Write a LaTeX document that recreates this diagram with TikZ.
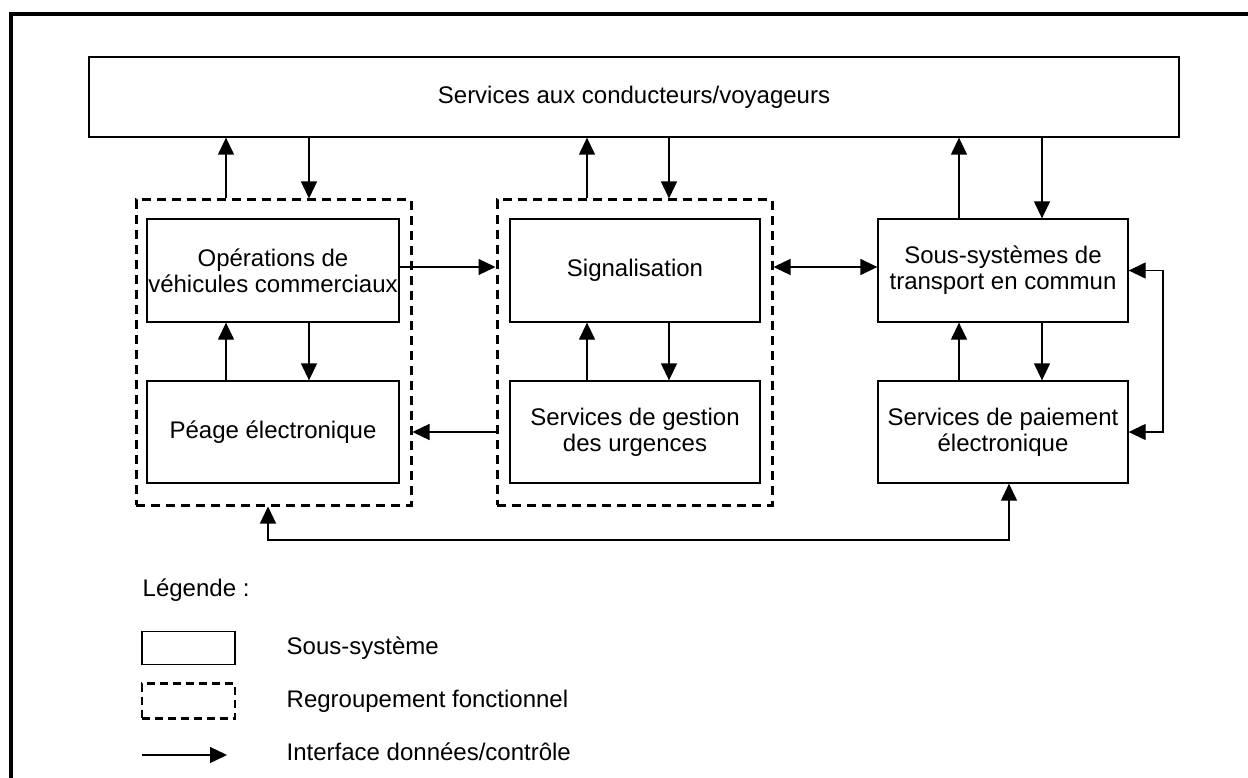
\documentclass[tikz,border=0pt]{standalone}
\usepackage{fontspec}
\setmainfont{Liberation Sans}
\usetikzlibrary{arrows.meta}
\begin{document}
\begin{tikzpicture}[x=1pt,y=-1pt,
  font=\fontsize{24}{26}\selectfont,
  subsys/.style={draw, line width=1.3pt, inner sep=0pt, align=center},
  grouping/.style={draw, line width=3pt, dash pattern=on 9pt off 6pt, inner sep=0pt},
  link/.style={line width=1.3pt, -{Triangle[length=17pt,width=16pt]}},
  duallink/.style={line width=1.3pt, {Triangle[length=17pt,width=16pt]}-{Triangle[length=17pt,width=16pt]}},
  caption/.style={anchor=west, inner sep=0pt}]
\useasboundingbox (0,0) rectangle (1248,778);
\clip (0,0) rectangle (1248,778);
% page frame
\draw[line width=3.5pt] (11,800) -- (11,14) -- (1260,14);

% top subsystem
\node[subsys, minimum width=1090pt, minimum height=80pt] (top) at (634,97)
  {Services aux conducteurs/voyageurs};

% functional groupings
\node[grouping, minimum width=275pt, minimum height=305pt] (g1) at (273.5,352.5) {};
\node[grouping, minimum width=275pt, minimum height=305pt] (g2) at (634.5,352.5) {};

% subsystems
\node[subsys, minimum width=252pt, minimum height=103pt] (ops) at (273,270.5)
  {Opérations de\\véhicules commerciaux};
\node[subsys, minimum width=252pt, minimum height=102pt] (peage) at (273,432)
  {Péage électronique};
\node[subsys, minimum width=250pt, minimum height=103pt] (sig) at (635,270.5)
  {Signalisation};
\node[subsys, minimum width=250pt, minimum height=102pt] (urg) at (635,432)
  {Services de gestion\\des urgences};
\node[subsys, minimum width=250pt, minimum height=103pt] (tc) at (1003,270.5)
  {Sous-systèmes de\\transport en commun};
\node[subsys, minimum width=250pt, minimum height=102pt] (pay) at (1003,432)
  {Services de paiement\\électronique};

% reference columns and rows for the connectors
\coordinate (c1u) at (226,0);
\coordinate (c1d) at (309,0);
\coordinate (c2u) at (587,0);
\coordinate (c2d) at (669,0);
\coordinate (c3u) at (959,0);
\coordinate (c3d) at (1042,0);
\coordinate (rowA) at (0,267);
\coordinate (rowB) at (0,432);
\coordinate (loopx) at (1163,0);
\coordinate (b1) at (268,540);
\coordinate (b2) at (1009,540);

% links with the top subsystem
\draw[link] (g1.north -| c1u) -- (top.south -| c1u);
\draw[link] (top.south -| c1d) -- (g1.north -| c1d);
\draw[link] (g2.north -| c2u) -- (top.south -| c2u);
\draw[link] (top.south -| c2d) -- (g2.north -| c2d);
\draw[link] (tc.north -| c3u) -- (top.south -| c3u);
\draw[link] (top.south -| c3d) -- (tc.north -| c3d);

% links inside the columns
\draw[link] (peage.north -| c1u) -- (ops.south -| c1u);
\draw[link] (ops.south -| c1d) -- (peage.north -| c1d);
\draw[link] (urg.north -| c2u) -- (sig.south -| c2u);
\draw[link] (sig.south -| c2d) -- (urg.north -| c2d);
\draw[link] (pay.north -| c3u) -- (tc.south -| c3u);
\draw[link] (tc.south -| c3d) -- (pay.north -| c3d);

% links between columns
\draw[link] (ops.east |- rowA) -- (g2.west |- rowA);
\draw[link] (g2.west |- rowB) -- (g1.east |- rowB);
\draw[duallink] (g2.east |- rowA) -- (tc.west |- rowA);
\draw[duallink] (tc.east) -- (tc.east -| loopx) -- (pay.east -| loopx) -- (pay.east);
\draw[duallink] (g1.south -| b1) -- (b1) -- (b2) -- (pay.south -| b2);

% legend
\node[caption] (leg) at (142.5,590) {Légende :};
\node[draw, line width=1.3pt, minimum width=93pt, minimum height=33pt, inner sep=0pt] (ks) at (188.5,648) {};
\node[draw, line width=2.5pt, dash pattern=on 8pt off 5pt, minimum width=93pt, minimum height=35pt, inner sep=0pt] (kg) at (188.5,701) {};
\coordinate (ka) at (142,755);
\coordinate (kb) at (227,755);
\draw[link] (ka) -- (kb);
\node[caption] (ts) at (286.5,648) {Sous-système};
\node[caption] (tg) at (286.5,701) {Regroupement fonctionnel};
\node[caption] (ta) at (286.5,752) {Interface données/contrôle};
\end{tikzpicture}
\end{document}
